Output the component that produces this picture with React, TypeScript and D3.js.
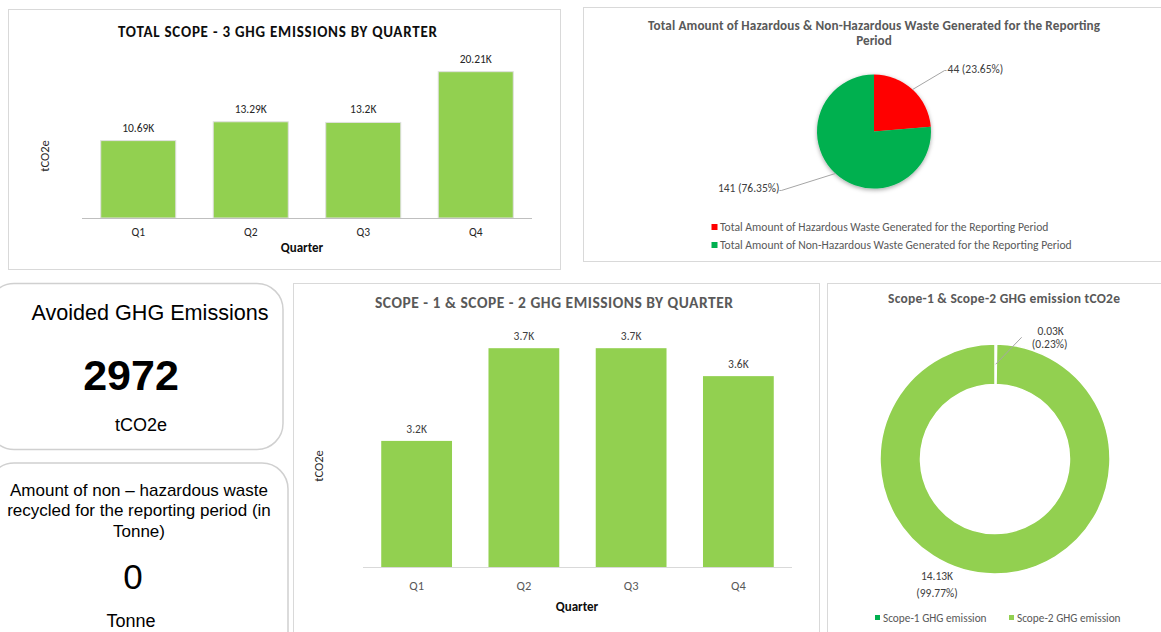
import React from "react";
import * as d3 from "d3";

// ---- data ----
const quarters = ["Q1", "Q2", "Q3", "Q4"];
const scope3Values = [10690, 13290, 13200, 20210];
const scope12Values = [3195, 3706, 3706, 3552];

const wasteLabels = [
  "Total Amount of Hazardous Waste Generated for the Reporting Period",
  "Total Amount of Non-Hazardous Waste Generated for the Reporting Period",
];
const wasteValues = [43.74, 141.2];
const wasteColors = ["#FF0000", "#00B050"];

const scopeLabels = ["Scope-1 GHG emission", "Scope-2 GHG emission"];
const scopeValues = [32.6, 14130];
const scopeColors = ["#00B050", "#92D050"];

const avoidedGhg = 2972;
const recycledWaste = 0;

const W = 1161;
const H = 632;
const BAR = "#92D050";
const GRAY = "#595959";
const chartFont = "Carlito, Lato, 'Open Sans', sans-serif";
const cardFont = "'Liberation Sans', Arial, sans-serif";

const fmtK = (v: number, digits: number) => +(v / 1000).toFixed(digits) + "K";
const pct = d3.format(".2%");

function ScopeThreeChart() {
  const x = d3.scaleBand().domain(quarters).range([82, 532]).paddingInner(0.333).paddingOuter(0.1665);
  const y = d3.scaleLinear().domain([0, 25000]).range([218, 37]);
  const base = y(0);
  return (
    <g fontFamily={chartFont}>
      <rect x={8.5} y={9.5} width={552} height={260} fill="#fff" stroke="#d9d9d9" />
      <text x={277.5} y={37} textAnchor="middle" fontSize={15} fontWeight="bold" fill="#0d0d0d" textLength={319} lengthAdjust="spacing">
        TOTAL SCOPE - 3 GHG EMISSIONS BY QUARTER
      </text>
      {scope3Values.map((v, i) => (
        <g key={i}>
          <rect x={x(quarters[i])!} y={y(v)} width={x.bandwidth()} height={base - y(v)} fill={BAR} stroke="#e0e0e0" strokeWidth={1} />
          <text x={x(quarters[i])! + x.bandwidth() / 2} y={y(v) - 9} textAnchor="middle" fontSize={11.5} fill="#262626">
            {fmtK(v, 2)}
          </text>
          <text x={x(quarters[i])! + x.bandwidth() / 2} y={236} textAnchor="middle" fontSize={11.5} fill="#262626">
            {quarters[i]}
          </text>
        </g>
      ))}
      <line x1={82} x2={532} y1={base + 0.5} y2={base + 0.5} stroke="#bfbfbf" />
      <text x={302} y={252} textAnchor="middle" fontSize={13} fontWeight="bold" fill="#0d0d0d">Quarter</text>
      <text transform={`translate(49,156) rotate(-90)`} textAnchor="middle" fontSize={12.5} fill="#262626">tCO2e</text>
    </g>
  );
}

function WastePie() {
  const cx = 874;
  const cy = 131.5;
  const r = 57;
  const total = d3.sum(wasteValues);
  const arcs = d3.pie<number>().sort(null)(wasteValues);
  const arc = d3.arc<d3.PieArcDatum<number>>().innerRadius(0).outerRadius(r);
  const edge = d3.arc<d3.PieArcDatum<number>>().innerRadius(r).outerRadius(r);
  // label elbow offsets relative to the slice edge
  const labelOff = [
    { dx: 32, dy: -19, anchor: "start", tx: 3 },
    { dx: -54, dy: 17, anchor: "end", tx: -2 },
  ];
  return (
    <g fontFamily={chartFont}>
      <defs>
        <filter id="pieShadow" x="-20%" y="-20%" width="140%" height="140%">
          <feDropShadow dx={0} dy={1.5} stdDeviation={2} floodColor="#000" floodOpacity={0.35} />
        </filter>
      </defs>
      <rect x={583.5} y={7.5} width={590} height={254} fill="#fff" stroke="#d9d9d9" />
      <text x={874} y={30} textAnchor="middle" fontSize={13.2} fontWeight="bold" fill={GRAY} textLength={452} lengthAdjust="spacing">
        Total Amount of Hazardous &amp; Non-Hazardous Waste Generated for the Reporting
      </text>
      <text x={874} y={45} textAnchor="middle" fontSize={13.2} fontWeight="bold" fill={GRAY}>Period</text>
      <g transform={`translate(${cx},${cy})`}>
        <g filter="url(#pieShadow)">
          {arcs.map((a, i) => (
            <path key={i} d={arc(a)!} fill={wasteColors[i]} />
          ))}
        </g>
        {arcs.map((a, i) => {
          const [px, py] = edge.centroid(a);
          const o = labelOff[i];
          const ex = px + o.dx;
          const ey = py + o.dy;
          return (
            <g key={i}>
              <polyline points={`${px},${py} ${ex},${ey} ${ex + (o.tx > 0 ? 2 : -2)},${ey}`} fill="none" stroke="#a6a6a6" strokeWidth={1} />
              <text x={ex + o.tx} y={ey + 2} textAnchor={o.anchor} fontSize={11.5} fill="#404040">
                {Math.round(wasteValues[i])} ({pct(wasteValues[i] / total)})
              </text>
            </g>
          );
        })}
      </g>
      {wasteLabels.map((l, i) => (
        <g key={i}>
          <rect x={711.5} y={224 + i * 18} width={6} height={6} fill={wasteColors[i]} />
          <text x={720} y={231 + i * 18} fontSize={11.6} fill={GRAY}>{l}</text>
        </g>
      ))}
    </g>
  );
}

function Cards() {
  return (
    <g fontFamily={cardFont} fill="#000">
      <rect x={-12} y={283.5} width={295} height={166} rx={26} fill="#fff" stroke="#d0d0d0" strokeWidth={1.5} />
      <text x={150} y={320} textAnchor="middle" fontSize={21.6}>Avoided GHG Emissions</text>
      <text x={131} y={390} textAnchor="middle" fontSize={43} fontWeight="bold">{avoidedGhg}</text>
      <text x={141} y={431} textAnchor="middle" fontSize={18}>tCO2e</text>

      <rect x={-12} y={463} width={300} height={200} rx={26} fill="#fff" stroke="#d0d0d0" strokeWidth={1.5} />
      <text x={139} y={496} textAnchor="middle" fontSize={17}>Amount of non – hazardous waste</text>
      <text x={139} y={516} textAnchor="middle" fontSize={17}>recycled for the reporting period (in</text>
      <text x={139} y={537} textAnchor="middle" fontSize={17}>Tonne)</text>
      <text x={133} y={589} textAnchor="middle" fontSize={35}>{recycledWaste}</text>
      <text x={131} y={627} textAnchor="middle" fontSize={18}>Tonne</text>
    </g>
  );
}

function ScopeOneTwoChart() {
  const x = d3.scaleBand().domain(quarters).range([363, 792]).paddingInner(0.34).paddingOuter(0.17);
  const y = d3.scaleLinear().domain([2500, 3900]).range([567, 313]);
  const base = y(2500);
  return (
    <g fontFamily={chartFont}>
      <rect x={293.5} y={283.5} width={526} height={360} fill="#fff" stroke="#d9d9d9" />
      <text x={554} y={308} textAnchor="middle" fontSize={15.5} fontWeight="bold" fill={GRAY} textLength={358} lengthAdjust="spacing">
        SCOPE - 1 &amp; SCOPE - 2 GHG EMISSIONS BY QUARTER
      </text>
      <line x1={363} x2={792} y1={base + 0.5} y2={base + 0.5} stroke="#d9d9d9" />
      {scope12Values.map((v, i) => (
        <g key={i}>
          <rect x={x(quarters[i])!} y={y(v)} width={x.bandwidth()} height={base - y(v)} fill={BAR} />
          <text x={x(quarters[i])! + x.bandwidth() / 2} y={y(v) - 8} textAnchor="middle" fontSize={11.5} fill="#404040">
            {fmtK(v, 1)}
          </text>
          <text x={x(quarters[i])! + x.bandwidth() / 2} y={590} textAnchor="middle" fontSize={12.5} fill={GRAY}>
            {quarters[i]}
          </text>
        </g>
      ))}
      <text x={577} y={611} textAnchor="middle" fontSize={13} fontWeight="bold" fill="#0d0d0d">Quarter</text>
      <text transform={`translate(323,466) rotate(-90)`} textAnchor="middle" fontSize={12.5} fill="#262626">tCO2e</text>
    </g>
  );
}

function ScopeDonut() {
  const cx = 995;
  const cy = 459;
  const R = 115;
  const r0 = 74.5;
  const total = d3.sum(scopeValues);
  const arcs = d3.pie<number>().sort(null)(scopeValues);
  const arc = d3.arc<d3.PieArcDatum<number>>().innerRadius(r0).outerRadius(R);
  const [mx, my] = arc.centroid(arcs[0]);
  return (
    <g fontFamily={chartFont}>
      <rect x={827.5} y={283.5} width={340} height={360} fill="#fff" stroke="#d9d9d9" />
      <text x={1004} y={303} textAnchor="middle" fontSize={13.5} fontWeight="bold" fill={GRAY} textLength={232} lengthAdjust="spacing">
        Scope-1 &amp; Scope-2 GHG emission tCO2e
      </text>
      <g transform={`translate(${cx},${cy})`}>
        {arcs.map((a, i) => (
          <path key={i} d={arc(a)!} fill={scopeColors[i]} stroke="#fff" strokeWidth={1.5} />
        ))}
        <line x1={mx} y1={my} x2={mx + 26} y2={my - 27} stroke="#a6a6a6" />
        <text x={mx + 55} y={my - 29} textAnchor="middle" fontSize={11.5} fill="#404040">
          {fmtK(scopeValues[0], 2)}
        </text>
        <text x={mx + 54} y={my - 16} textAnchor="middle" fontSize={11.5} fill="#404040">
          ({pct(scopeValues[0] / total)})
        </text>
        <text x={-58} y={121} textAnchor="middle" fontSize={11.5} fill="#404040">
          {fmtK(scopeValues[1], 2)}
        </text>
        <text x={-58} y={138} textAnchor="middle" fontSize={11.5} fill="#404040">
          ({pct(scopeValues[1] / total)})
        </text>
      </g>
      {scopeLabels.map((l, i) => (
        <g key={i}>
          <rect x={875 + i * 134} y={615} width={5} height={5} fill={scopeColors[i]} />
          <text x={883 + i * 134} y={622} fontSize={11.3} fill={GRAY}>{l}</text>
        </g>
      ))}
    </g>
  );
}

export default function App() {
  return (
    <svg
      width={W}
      height={H}
      viewBox={`0 0 ${W} ${H}`}
      style={{ position: "absolute", left: 0, top: 0, background: "#fff" }}
    >
      <rect width={W} height={H} fill="#fff" />
      <ScopeThreeChart />
      <WastePie />
      <Cards />
      <ScopeOneTwoChart />
      <ScopeDonut />
    </svg>
  );
}
